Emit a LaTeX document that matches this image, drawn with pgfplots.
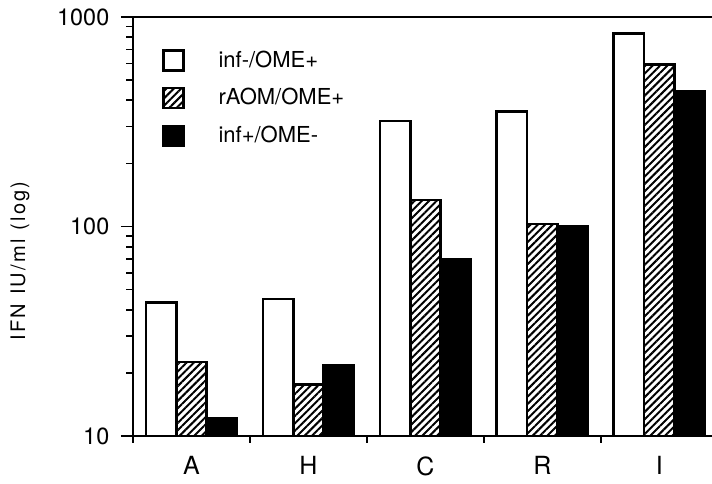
\documentclass[border=0pt]{standalone}
\usepackage{pgfplots}
\pgfplotsset{compat=1.18}
\usepackage{fontspec}
\setmainfont{TeX Gyre Heros}
\usetikzlibrary{patterns.meta}
\begin{document}
\fontsize{11}{13}\selectfont
\begin{tikzpicture}
\begin{axis}[
  scale only axis, width=289.5pt, height=209.5pt,
  clip=false,
  ymode=log, ymin=10, ymax=1000, log origin=infty,
  ytick={10,100,1000}, yticklabels={10,100,1000},
  xmin=-0.5, xmax=4.45,
  xtick={0,1,2,3,4}, xticklabels={A,H,C,R,I},
  minor xtick={-0.5,0.5,1.5,2.5,3.5},
  major x tick style={draw=none},
  axis x line*=bottom, axis y line*=left,
  axis line style={line width=1.2pt},
  tick align=outside,
  major tick length=6pt, minor tick length=3.4pt,
  tick style={black, line width=0.9pt},
  /pgf/number format/assume math mode=true,
  yticklabel style={xshift=-2pt, font=\fontsize{11.7}{13}\selectfont},
  xticklabel style={yshift=-0.5pt, font=\fontsize{12.5}{14}\selectfont},
  ylabel={IFN\hspace{0.45em}IU/ml\hspace{0.45em}(log)},
  every axis y label/.style={at={(axis description cs:-0.195,0.4177)}, rotate=90, anchor=center,
    font=\fontsize{10}{12}\selectfont\addfontfeatures{LetterSpace=11}},
  legend style={draw=none, fill=none, at={(axis description cs:0.05,0.93)}, anchor=north west,
    row sep=5pt, font=\fontsize{11}{13}\selectfont, inner sep=0pt,
    /tikz/every odd column/.append style={column sep=15pt}},
  legend cell align=left,
  legend image code/.code={\draw[#1, line width=1.1pt] (0pt,-5pt) rectangle (10pt,5pt);},
]
\addplot[ybar, bar width=0.26, bar shift=-0.26, draw=black, line width=1.3pt, fill=white]
  coordinates {(0,43.3) (1,45) (2,319) (3,353) (4,836)};
\addplot[ybar, bar width=0.26, bar shift=0, draw=black, line width=1.3pt,
  pattern={Lines[angle=45,distance=2.6pt,line width=1pt]}]
  coordinates {(0,22.6) (1,17.6) (2,134) (3,103) (4,595)};
\addplot[ybar, bar width=0.26, bar shift=0.26, draw=black, line width=1.3pt, fill=black]
  coordinates {(0,12.1) (1,21.8) (2,70) (3,100) (4,440)};
\legend{inf-/OME+, rAOM/OME+, inf+/OME-}
\draw[line width=1.2pt] (rel axis cs:0,1) -- (rel axis cs:1,1);
\coordinate (bl) at (rel axis cs:0,0);
\coordinate (tr) at (rel axis cs:1,1);
\end{axis}
\pgfresetboundingbox
\path[use as bounding box] ([xshift=-66.5pt,yshift=-23.5pt]bl) rectangle ([yshift=8.5pt]tr);
\end{tikzpicture}
\end{document}
